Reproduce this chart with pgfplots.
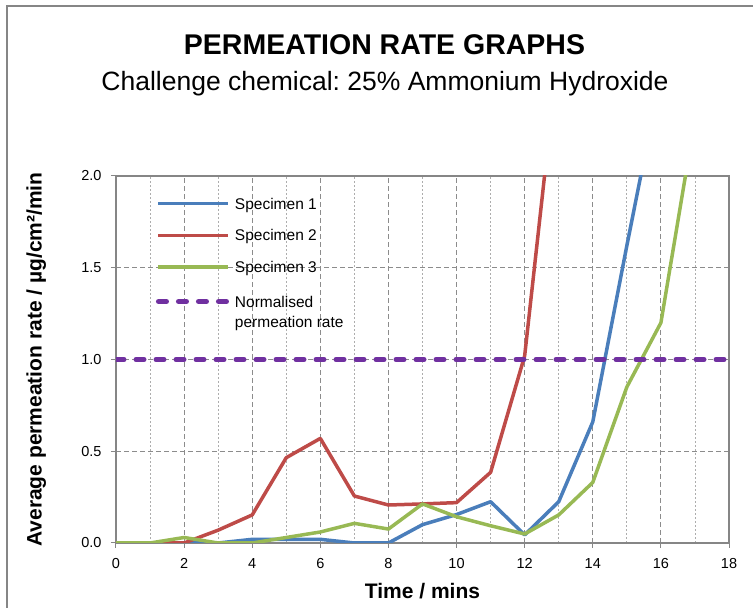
\documentclass[border=0pt]{standalone}
\usepackage{pgfplots}
\pgfplotsset{compat=1.18}
\usepackage{fontspec}
\setmainfont{Liberation Sans}
\frenchspacing

\definecolor{spec1}{HTML}{4A7EBB}
\definecolor{spec2}{HTML}{BE4B48}
\definecolor{spec3}{HTML}{98B954}
\definecolor{normrate}{HTML}{7030A0}
\definecolor{axisgray}{HTML}{868686}
\definecolor{gridgray}{HTML}{8C8C8C}
\definecolor{minorgray}{HTML}{ADADAD}

% time (min), average permeation rate (ug/cm2/min)
\pgfplotstableread{
t   r
0   0
1   0
2   0
3   0
4   0.02
5   0.02
6   0.02
7   0
8   0
9   0.10
10  0.155
11  0.225
12  0.044
13  0.225
14  0.66
15  1.62
16  2.55
}\specone
\pgfplotstableread{
t   r
0   0
1   0
2   0
3   0.07
4   0.153
5   0.465
6   0.57
7   0.256
8   0.207
9   0.213
10  0.22
11  0.385
12  1.02
13  2.7
}\spectwo
\pgfplotstableread{
t   r
0   0
1   0
2   0.03
3   0
4   0
5   0.03
6   0.06
7   0.107
8   0.076
9   0.213
10  0.143
11  0.094
12  0.049
13  0.153
14  0.33
15  0.85
16  1.2
17  2.31
}\specthree

\begin{document}
\begin{tikzpicture}[x=1pt,y=1pt]
\useasboundingbox (0,0) rectangle (753,608);
\draw[axisgray, line width=1.5pt] (7,0) -- (7,602) -- (753,602);
\node[anchor=base, font=\bfseries\fontsize{28.5}{32}\selectfont]
    at (384.5,553) {PERMEATION RATE GRAPHS};
\node[anchor=base, font=\fontsize{26.5}{30}\selectfont]
    at (385,517.5) {Challenge chemical: 25\% Ammonium Hydroxide};
\begin{axis}[
    at={(116pt,65pt)}, anchor=south west,
    width=613pt, height=367pt, scale only axis,
    xmin=0, xmax=18, ymin=0, ymax=2,
    xtick={0,2,...,18}, ytick={0,0.5,...,2},
    minor x tick num=1,
    grid=both,
    major grid style={gridgray, line width=0.8pt, dash pattern=on 5pt off 3pt},
    minor grid style={minorgray, line width=0.7pt, dash pattern=on 2pt off 2pt},
    tick align=outside, tick pos=left,
    major tick length=5pt, minor tick length=0pt,
    tick style={axisgray, line width=1pt},
    axis line style={axisgray, line width=1.5pt},
    ticklabel style={font=\fontsize{14.5}{17}\selectfont},
    xticklabel style={yshift=-7pt},
    yticklabel style={xshift=-6pt, /pgf/number format/.cd, fixed, fixed zerofill, precision=1},
    /pgf/number format/assume math mode=true,
    xlabel={Time / mins},
    ylabel={Average permeation rate / µg/cm²/min},
    label style={font=\bfseries\fontsize{21}{24}\selectfont},
    xlabel style={at={(rel axis cs:0.5,-0.150)}, anchor=base},
    ylabel style={at={(rel axis cs:-0.130,0.5)}, anchor=center},
    legend style={draw=none, fill=none, at={(0.06,0.952)}, anchor=north west,
        font=\fontsize{15.5}{20}\selectfont, row sep=15pt,
        cells={anchor=base west}},
    legend image code/.code={\draw[#1] (0pt,5.5pt) -- (70pt,5.5pt);},
]
\addplot[spec1, line width=3.5pt, line join=round] table[x=t, y=r] {\specone};
\addlegendentry{\hspace{2pt}Specimen 1}
\addplot[spec2, line width=3.5pt, line join=round] table[x=t, y=r] {\spectwo};
\addlegendentry{\hspace{2pt}Specimen 2}
\addplot[spec3, line width=3.5pt, line join=round] table[x=t, y=r] {\specthree};
\addlegendentry{\hspace{2pt}Specimen 3}
\addplot[normrate, line width=5pt, line cap=round, dash pattern=on 8pt off 12pt]
    coordinates {(0,1) (18,1)};
\addlegendentry{\hspace{2pt}\begin{tabular}[t]{@{}l@{}}Normalised\\permeation rate\end{tabular}}
\end{axis}
\end{tikzpicture}
\end{document}
